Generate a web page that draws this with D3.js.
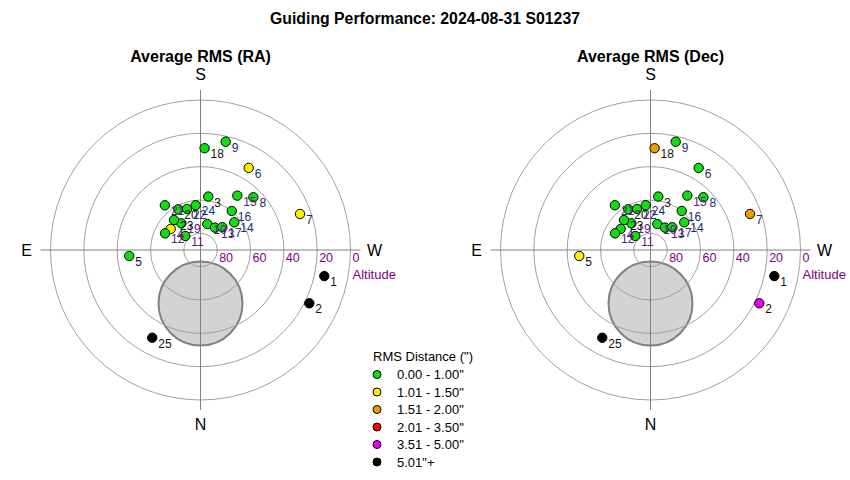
<!DOCTYPE html>
<html>
<head>
<meta charset="utf-8">
<script src="https://cdn.jsdelivr.net/npm/d3@7"></script>
<style>
  body { margin: 0; background: #fff; }
  svg { display: block; font-family: "Liberation Sans", Arial, sans-serif; }
</style>
</head>
<body>
<svg id="chart" width="850" height="480"></svg>
<script>
// ---- Data ----
const chartTitle = "Guiding Performance: 2024-08-31 S01237";
const panelTitles = ["Average RMS (RA)", "Average RMS (Dec)"];
const pointIds   = [1, 2, 3, 4, 5, 6, 7, 8, 9, 10, 11, 12, 13, 14, 15, 16, 17, 18, 19, 20, 21, 22, 23, 24, 25];
const azimuths   = [281.9, 296.1, 188.3, 125.2, 85.2, 210.4, 250.1, 225.1, 193.1, 194.7, 132.6, 115.2, 213.0, 230.7, 214.1, 218.7, 223.8, 182.3, 144.3, 151.4, 141.5, 161.8, 138.5, 173.9, 28.8];
const altitudes  = [14.1, 17.3, 57.6, 68.1, 47.1, 32.9, 26.5, 45.2, 23.3, 73.9, 77.6, 66.5, 74.0, 63.8, 50.6, 60.0, 71.1, 28.9, 70.3, 62.2, 55.7, 64.1, 66.0, 63.0, 29.9];
// RMS class index per point (0..5) for RA and Dec
const raClass    = [5, 5, 0, 1, 0, 1, 1, 0, 0, 0, 0, 0, 0, 0, 0, 0, 0, 0, 0, 0, 0, 0, 0, 0, 5];
const decClass   = [5, 4, 0, 0, 1, 0, 2, 0, 0, 0, 0, 0, 0, 0, 0, 0, 0, 2, 0, 0, 0, 0, 0, 0, 5];
const labelTone  = [0, 0, 0, 2, 0, 1, 1, 1, 1, 2, 2, 2, 2, 1, 2, 1, 1, 0, 2, 0, 2, 1, 0, 1, 0];
const altRings   = [80, 60, 40, 20, 0];
const legendLabels = ["0.00 - 1.00\"", "1.01 - 1.50\"", "1.51 - 2.00\"", "2.01 - 3.50\"", "3.51 - 5.00\"", "5.01\"+"];
const legendColors = ["#11dd11", "#ffee00", "#f09a00", "#ff0000", "#ee00ee", "#000000"];
const labelColors  = ["#111111", "#1c2c6c", "#5a1a7a"];
// obstruction zone (az, alt centre, radius in degrees)
const maskAz = 0, maskAlt = 57.9, maskRadius = 25.2;

// ---- Drawing ----
const svg = d3.select("#chart");
const R = 150;
const rScale = d3.scaleLinear().domain([90, 0]).range([0, R]);
const rad = d => d * Math.PI / 180;
function project(az, alt) {
  const r = rScale(alt);
  return [-r * Math.sin(rad(az)), r * Math.cos(rad(az))];
}

svg.append("text").attr("x", 425).attr("y", 24).attr("text-anchor", "middle")
  .attr("font-size", 15.8).attr("font-weight", "bold").text(chartTitle);

const centers = [[200.5, 250], [650.5, 250]];
const classes = [raClass, decClass];

centers.forEach((c, pi) => {
  const g = svg.append("g").attr("transform", `translate(${c[0]},${c[1]})`);
  g.append("text").attr("x", 0).attr("y", -188).attr("text-anchor", "middle")
    .attr("font-size", 16).attr("font-weight", "bold").text(panelTitles[pi]);

  // obstruction
  const mc = project(maskAz, maskAlt);
  g.append("circle").attr("cx", mc[0]).attr("cy", mc[1])
    .attr("r", rScale(90 - maskRadius))
    .attr("fill", "#d3d3d3").attr("stroke", "#808080").attr("stroke-width", 2);

  // rings
  g.selectAll("circle.ring").data(altRings).join("circle").attr("class", "ring")
    .attr("r", d => rScale(d)).attr("fill", "none")
    .attr("stroke", "#a0a0a0").attr("stroke-width", 1);

  // axes
  g.append("line").attr("x1", -160).attr("x2", 160).attr("y1", 0).attr("y2", 0)
    .attr("stroke", "#808080");
  g.append("line").attr("x1", 0).attr("x2", 0).attr("y1", -160).attr("y2", 160)
    .attr("stroke", "#808080");

  // ring labels
  g.selectAll("text.ringlab").data(altRings).join("text").attr("class", "ringlab")
    .attr("x", d => rScale(d) + 2).attr("y", 12)
    .attr("font-size", 12.5).attr("fill", "#800080").text(d => d);
  g.append("text").attr("x", 152).attr("y", 29).attr("font-size", 13)
    .attr("fill", "#800080").text("Altitude");

  // compass
  const comp = [["S", 0, -170], ["N", 0, 180], ["E", -174, 6], ["W", 174, 6]];
  g.selectAll("text.comp").data(comp).join("text").attr("class", "comp")
    .attr("x", d => d[1]).attr("y", d => d[2]).attr("text-anchor", "middle")
    .attr("font-size", 16).text(d => d[0]);

  // points
  const pts = pointIds.map((id, i) => ({ id, i, p: project(azimuths[i], altitudes[i]), cls: classes[pi][i] }));
  g.selectAll("circle.pt").data(pts).join("circle").attr("class", "pt")
    .attr("cx", d => d.p[0]).attr("cy", d => d.p[1]).attr("r", 4.7)
    .attr("fill", d => legendColors[d.cls]).attr("stroke", "#000").attr("stroke-width", 1);
  g.selectAll("text.ptlab").data(pts).join("text").attr("class", "ptlab")
    .attr("x", d => d.p[0] + 6).attr("y", d => d.p[1] + 10)
    .attr("font-size", 12).attr("fill", d => labelColors[labelTone[d.i]]).text(d => d.id);
});

// legend
const lg = svg.append("g").attr("transform", "translate(373,361)");
lg.append("text").attr("x", 0).attr("y", 0).attr("font-size", 13).text("RMS Distance (\")");
const rows = lg.selectAll("g.row").data(legendLabels).join("g").attr("class", "row")
  .attr("transform", (d, i) => `translate(0,${13.5 + i * 17.5})`);
rows.append("circle").attr("cx", 4).attr("cy", 0).attr("r", 4)
  .attr("fill", (d, i) => legendColors[i]).attr("stroke", "#000").attr("stroke-width", 1);
rows.append("text").attr("x", 24).attr("y", 4.5).attr("font-size", 13).text(d => d);
</script>
</body>
</html>
